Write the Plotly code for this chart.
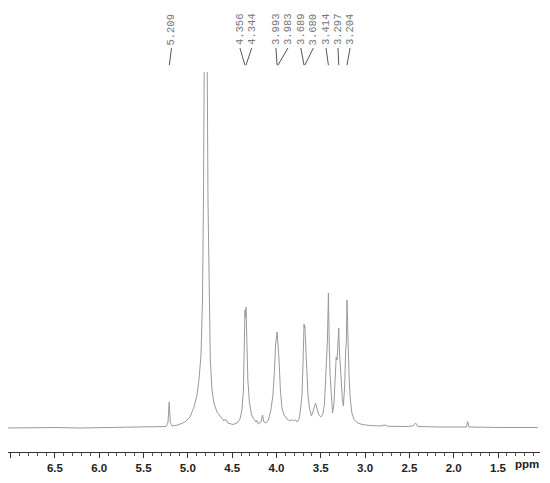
import plotly.graph_objects as go

# 1H NMR trace (chemical shift in ppm, intensity in arbitrary units)
shift_ppm = [
    7.030, 6.782, 6.500, 6.218, 5.879, 5.541, 5.315, 5.247, 5.225, 5.211,
    5.199, 5.179, 5.112, 5.033, 4.976, 4.931, 4.897, 4.875, 4.852, 4.835,
    4.824, 4.799, 4.773, 4.762, 4.747, 4.728, 4.706, 4.672, 4.627, 4.593,
    4.574, 4.548, 4.491, 4.446, 4.412, 4.390, 4.373, 4.361, 4.356, 4.350,
    4.344, 4.336, 4.323, 4.306, 4.283, 4.260, 4.243, 4.232, 4.221, 4.204,
    4.176, 4.157, 4.142, 4.120, 4.091, 4.063, 4.040, 4.023, 4.010, 3.993,
    3.988, 3.983, 3.971, 3.956, 3.938, 3.915, 3.881, 3.848, 3.825, 3.808,
    3.791, 3.769, 3.741, 3.724, 3.712, 3.701, 3.692, 3.689, 3.684, 3.680,
    3.670, 3.656, 3.645, 3.628, 3.606, 3.589, 3.572, 3.559, 3.544, 3.522,
    3.499, 3.476, 3.459, 3.448, 3.440, 3.434, 3.425, 3.414, 3.411, 3.405,
    3.395, 3.384, 3.367, 3.352, 3.337, 3.326, 3.316, 3.297, 3.290, 3.282,
    3.270, 3.256, 3.245, 3.230, 3.219, 3.212, 3.204, 3.200, 3.191, 3.180,
    3.166, 3.149, 3.127, 3.093, 3.035, 2.945, 2.832, 2.775, 2.742, 2.550,
    2.460, 2.430, 2.404, 2.156, 1.856, 1.843, 1.827, 1.478, 1.051,
]
intensity = [
    0, 0.5, 0.5, 0, 0.5, 1, 1, 1.5, 5, 26,
    6, 2, 3, 6, 11, 21, 33, 48, 73, 128,
    228, 630, 228, 128, 68, 38, 25, 16, 11, 7,
    9, 5, 3.5, 5, 9, 18, 38, 78, 118, 110,
    121, 88, 48, 26, 14, 9, 8, 6, 7.5, 4,
    6, 13, 6, 5, 8, 18, 33, 58, 83, 96,
    90, 92, 68, 38, 20, 13, 9, 7, 8.5, 7,
    8.5, 6, 10, 23, 33, 63, 98, 104, 100, 102,
    83, 53, 33, 20, 12, 16, 22, 25, 20, 13,
    11, 14, 23, 43, 73, 80, 88, 135, 98, 86,
    53, 33, 15, 23, 53, 71, 68, 100, 78, 65,
    43, 28, 22, 43, 78, 86, 128, 88, 83, 50,
    28, 15, 9, 5.5, 3.5, 2.5, 2, 3, 1.7, 1.5,
    2, 5, 1.5, 1, 1, 6.5, 1, 0.5, 0.5,
]

# picked peaks
peak_ppm = [5.209, 4.356, 4.344, 3.993, 3.983, 3.689, 3.680, 3.414, 3.297, 3.204]
peak_labels = ["5.209", "4.356", "4.344", "3.993", "3.983", "3.689", "3.680", "3.414", "3.297", "3.204"]

# axis ticks
tick_vals = [7.0, 6.5, 6.0, 5.5, 5.0, 4.5, 4.0, 3.5, 3.0, 2.5, 2.0, 1.5]
tick_text = ["", "6.5", "6.0", "5.5", "5.0", "4.5", "4.0", "3.5", "3.0", "2.5", "2.0", "1.5"]

fig = go.Figure()
fig.add_trace(go.Scatter(
    x=shift_ppm, y=intensity, mode="lines",
    line=dict(color="#9a9a9a", width=1),
    hoverinfo="skip", showlegend=False,
))

# where the peak labels sit above the plot (ppm), spread so they do not overlap
label_pos = [5.185, 4.412, 4.280, 4.006, 3.871, 3.725, 3.584, 3.441, 3.306, 3.170]

for lab, pk, pos in zip(peak_labels, peak_ppm, label_pos):
    fig.add_annotation(
        x=pos, y=1.113, xref="x", yref="paper", text=lab, textangle=-90,
        showarrow=False, xanchor="center", yanchor="middle",
        font=dict(family="Liberation Mono", size=10.5, color="#777777"),
    )
    fig.add_shape(
        type="line", xref="x", yref="paper",
        x0=pos, y0=1.063, x1=pk, y1=1.018,
        line=dict(color="#555555", width=1),
    )

fig.add_annotation(
    x=0.9756, y=-0.032, xref="paper", yref="paper", text="<b>ppm</b>",
    showarrow=False, xanchor="center", yanchor="middle",
    font=dict(family="Liberation Sans", size=11.5, color="#222222"),
)

fig.update_layout(
    width=550, height=483,
    margin=dict(l=8, r=10, t=72, b=31),
    plot_bgcolor="white", paper_bgcolor="white",
    showlegend=False,
    xaxis=dict(
        range=[7.03, 1.026], tickvals=tick_vals, ticktext=tick_text,
        ticks="outside", ticklen=5, tickcolor="#333333", tickwidth=1,
        showline=True, linecolor="#333333", linewidth=1,
        showgrid=False, zeroline=False,
        tickfont=dict(family="Liberation Sans", size=11.5, color="#222222", weight="bold"),
        minor=dict(dtick=0.1, tick0=0, ticks="outside", ticklen=2.5, tickcolor="#555555", showgrid=False),
    ),
    yaxis=dict(range=[-24, 356], visible=False, showgrid=False, zeroline=False),
)

# drop the page margin so the 550x483 figure fills the window exactly
fig.write_html(
    "out.html",
    config={"displayModeBar": False},
    post_script="document.body.style.margin='0';",
)
